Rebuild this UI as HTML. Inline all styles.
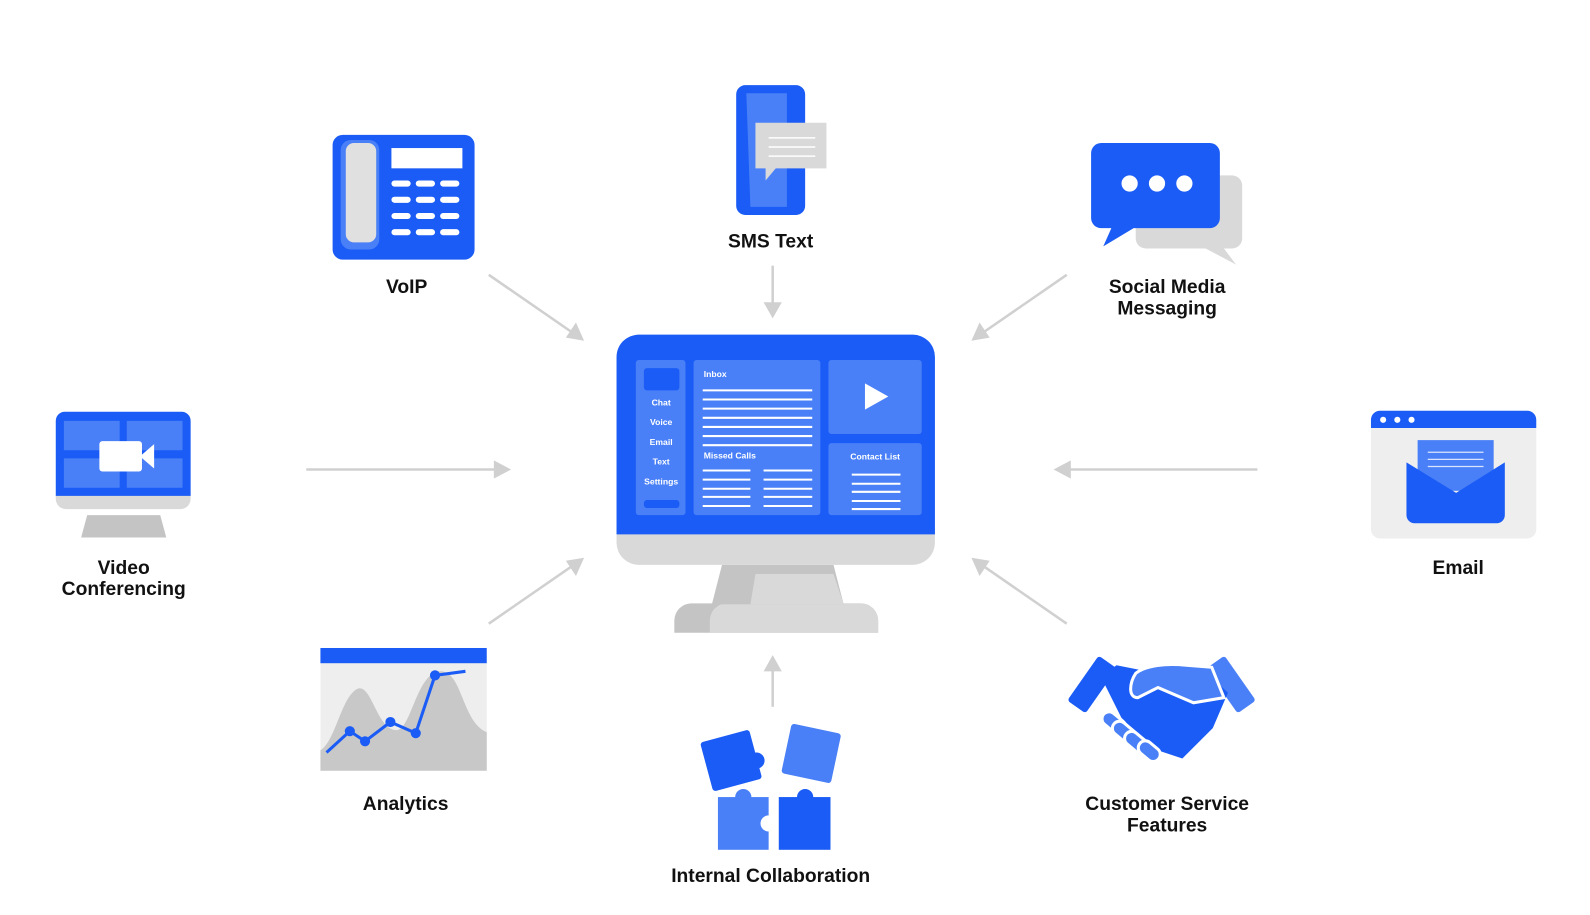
<!DOCTYPE html>
<html><head><meta charset="utf-8"><style>
html,body{margin:0;padding:0;background:#fff}
svg{display:block}
text{font-family:"Liberation Sans",Arial,sans-serif;font-weight:bold;fill:#111}
.l{font-size:19px;text-anchor:middle}
.s{font-size:8.5px;fill:#fff}
</style></head><body>
<svg width="1590" height="915" viewBox="0 0 1568 902.3" preserveAspectRatio="none" xmlns="http://www.w3.org/2000/svg">
<g stroke="#d0d0d0" stroke-width="2.5" fill="none">
<line x1="482" y1="271" x2="566" y2="329"/>
<line x1="762" y1="262" x2="762" y2="302"/>
<line x1="1052" y1="271" x2="968" y2="329"/>
<line x1="302" y1="463" x2="490" y2="463"/>
<line x1="1240" y1="463" x2="1053" y2="463"/>
<line x1="482" y1="615" x2="566" y2="557"/>
<line x1="762" y1="697" x2="762" y2="660"/>
<line x1="1052" y1="615" x2="968" y2="557"/>
</g>
<g fill="#d0d0d0">
<polygon points="576,336 558,333 568,318"/>
<polygon points="762,314 753,298 771,298"/>
<polygon points="958,336 966,318 976,333"/>
<polygon points="504,463 487,454 487,472"/>
<polygon points="1039,463 1056,454 1056,472"/>
<polygon points="576,550 568,568 558,553"/>
<polygon points="762,646 753,662 771,662"/>
<polygon points="958,550 976,553 966,568"/>
</g>

<!-- central monitor -->
<path d="M665,624 v-12 a17,17 0 0 1 17,-17 h167 a17,17 0 0 1 17,17 v12 z" fill="#c4c4c4"/>
<path d="M700,624 v-12 a17,17 0 0 1 17,-17 h132 a17,17 0 0 1 17,17 v12 z" fill="#d9d9d9"/>
<polygon points="712,557 822,557 832,596 702,596" fill="#c4c4c4"/>
<polygon points="745,566 822,566 832,596 740,596" fill="#d9d9d9"/>
<path d="M608,520 h314 v15 a22,22 0 0 1 -22,22 h-270 a22,22 0 0 1 -22,-22 z" fill="#d9d9d9"/>
<path d="M630,330 h270 a22,22 0 0 1 22,22 v175 h-314 v-175 a22,22 0 0 1 22,-22 z" fill="#1a5cf5"/>
<g fill="#4a80f7">
<rect x="627" y="355" width="49" height="153" rx="3"/>
<rect x="684" y="355" width="125" height="153" rx="3"/>
<rect x="817" y="355" width="92" height="73" rx="3"/>
<rect x="817" y="437" width="92" height="71" rx="3"/>
</g>
<rect x="635" y="363" width="35" height="22" rx="3" fill="#1a5cf5"/>
<rect x="635" y="493" width="35" height="8" rx="3" fill="#1a5cf5"/>
<text class="s" x="652" y="400" text-anchor="middle">Chat</text>
<text class="s" x="652" y="419" text-anchor="middle">Voice</text>
<text class="s" x="652" y="439" text-anchor="middle">Email</text>
<text class="s" x="652" y="458" text-anchor="middle">Text</text>
<text class="s" x="652" y="478" text-anchor="middle">Settings</text>
<text class="s" x="694" y="372">Inbox</text>
<text class="s" x="694" y="452">Missed Calls</text>
<text class="s" x="863" y="453" text-anchor="middle">Contact List</text>
<g stroke="#fff" stroke-width="2">
<path d="M693,385h108M693,394h108M693,403h108M693,412h108M693,421h108M693,430h108M693,439h108"/>
<path d="M693,464h47M693,473h47M693,482h47M693,490h47M693,499h47"/>
<path d="M753,464h48M753,473h48M753,482h48M753,490h48M753,499h48"/>
<path d="M840,468h48M840,477h48M840,485h48M840,494h48M840,502h48"/>
</g>
<polygon points="853,378 876,391 853,404" fill="#fff"/>

<!-- VoIP -->
<rect x="328" y="133" width="140" height="123" rx="10" fill="#1a5cf5"/>
<rect x="336" y="138" width="38" height="108" rx="10" fill="#4a80f7"/>
<rect x="341" y="141" width="30" height="98" rx="8" fill="#e0e0e0"/>
<rect x="386" y="146" width="70" height="20" fill="#fff"/>
<g fill="#fff">
<rect x="386" y="178" width="19" height="6" rx="3"/><rect x="410" y="178" width="19" height="6" rx="3"/><rect x="434" y="178" width="19" height="6" rx="3"/>
<rect x="386" y="194" width="19" height="6" rx="3"/><rect x="410" y="194" width="19" height="6" rx="3"/><rect x="434" y="194" width="19" height="6" rx="3"/>
<rect x="386" y="210" width="19" height="6" rx="3"/><rect x="410" y="210" width="19" height="6" rx="3"/><rect x="434" y="210" width="19" height="6" rx="3"/>
<rect x="386" y="226" width="19" height="6" rx="3"/><rect x="410" y="226" width="19" height="6" rx="3"/><rect x="434" y="226" width="19" height="6" rx="3"/>
</g>
<text class="l" x="401" y="289">VoIP</text>

<!-- SMS -->
<rect x="726" y="84" width="68" height="128" rx="9" fill="#1a5cf5"/>
<path d="M736,92 h40 v112 h-36 z" fill="#4a80f7"/>
<path d="M745,121 h70 v45 h-50 l-10,12 v-12 h-10 z" fill="#d9d9d9"/>
<g stroke="#fff" stroke-width="1.5"><path d="M758,136h46M758,145h46M758,154h46"/></g>
<text class="l" x="760" y="244">SMS Text</text>

<!-- Social -->
<path d="M1120,173 h95 a10,10 0 0 1 10,10 v52 a10,10 0 0 1 -10,10 h-8 l12,16 l-30,-16 h-59 a10,10 0 0 1 -10,-10 z" fill="#d9d9d9"/>
<path d="M1086,141 h107 a10,10 0 0 1 10,10 v64 a10,10 0 0 1 -10,10 h-75 l-30,18 l8,-18 h-10 a10,10 0 0 1 -10,-10 v-64 a10,10 0 0 1 10,-10 z" fill="#1a5cf5"/>
<circle cx="1114" cy="181" r="8" fill="#fff"/><circle cx="1141" cy="181" r="8" fill="#fff"/><circle cx="1168" cy="181" r="8" fill="#fff"/>
<text class="l" x="1151" y="289">Social Media</text>
<text class="l" x="1151" y="310">Messaging</text>

<!-- Video -->
<path d="M80,530 l6,-22 h72 l6,22 z" fill="#c4c4c4"/>
<path d="M55,488 h133 v4 a10,10 0 0 1 -10,10 h-113 a10,10 0 0 1 -10,-10 z" fill="#d9d9d9"/>
<path d="M64,406 h115 a9,9 0 0 1 9,9 v74 h-133 v-74 a9,9 0 0 1 9,-9 z" fill="#1a5cf5"/>
<g fill="#4a80f7"><rect x="63" y="415" width="55" height="29"/><rect x="125" y="415" width="55" height="29"/><rect x="63" y="452" width="55" height="29"/><rect x="125" y="452" width="55" height="29"/></g>
<rect x="98" y="435" width="42" height="30" rx="3" fill="#fff"/>
<polygon points="138,450 152,438 152,462" fill="#fff"/>
<text class="l" x="122" y="566">Video</text>
<text class="l" x="122" y="587">Conferencing</text>

<!-- Email -->
<rect x="1352" y="405" width="163" height="126" rx="9" fill="#eeeeee"/>
<path d="M1361,405 h145 a9,9 0 0 1 9,9 v8 h-163 v-8 a9,9 0 0 1 9,-9 z" fill="#1a5cf5"/>
<circle cx="1364" cy="414" r="3" fill="#fff"/><circle cx="1378" cy="414" r="3" fill="#fff"/><circle cx="1392" cy="414" r="3" fill="#fff"/>
<rect x="1398" y="434" width="75" height="50" fill="#4a80f7"/>
<path d="M1387,456 l49,30 l48,-30 v52 a8,8 0 0 1 -8,8 h-81 a8,8 0 0 1 -8,-8 z" fill="#1a5cf5"/>
<g stroke="#fff" stroke-width="1.2" opacity=".8"><path d="M1408,446h55M1408,453h55M1408,460h55"/></g>
<text class="l" x="1438" y="566">Email</text>

<!-- Analytics -->
<rect x="316" y="639" width="164" height="121" fill="#eeeeee"/>
<rect x="316" y="639" width="164" height="15" fill="#1a5cf5"/>
<path d="M316,760 v-20 c15,-10 20,-50 35,-60 c15,-10 20,40 40,40 c15,0 20,-60 45,-58 c20,2 20,50 44,60 v38 z" fill="#c8c8c8"/>
<polyline points="322,742 345,721 360,731 385,712 410,723 429,666 459,662" fill="none" stroke="#1a5cf5" stroke-width="3"/>
<g fill="#1a5cf5"><circle cx="345" cy="721" r="5"/><circle cx="360" cy="731" r="5"/><circle cx="385" cy="712" r="5"/><circle cx="410" cy="723" r="5"/><circle cx="429" cy="666" r="5"/></g>
<text class="l" x="400" y="799">Analytics</text>

<!-- Puzzle -->
<g>
<rect x="696" y="725" width="50" height="50" rx="3" fill="#1a5cf5" transform="rotate(-15 721 750)"/>
<rect x="775" y="718" width="50" height="50" rx="3" fill="#4a80f7" transform="rotate(12 800 743)"/>
<rect x="708" y="786" width="50" height="52" fill="#4a80f7"/>
<rect x="768" y="786" width="51" height="52" fill="#1a5cf5"/>
<circle cx="733" cy="786" r="8" fill="#4a80f7"/><circle cx="758" cy="812" r="8" fill="#fff"/>
<circle cx="794" cy="786" r="8" fill="#1a5cf5"/><circle cx="746" cy="750" r="8" fill="#1a5cf5"/>
</g>
<text class="l" x="760" y="870">Internal Collaboration</text>

<!-- Handshake -->
<g>
<rect x="1066" y="648" width="22" height="54" rx="3" fill="#1a5cf5" transform="rotate(35 1077 675)"/>
<rect x="1203" y="648" width="22" height="54" rx="3" fill="#4a80f7" transform="rotate(-35 1214 675)"/>
<path d="M1086,668 l20,40 l30,30 l30,10 l30,-30 l15,-35 l-20,-18 l-45,-6 l-20,2 l-25,-5 z" fill="#1a5cf5"/>
<path d="M1120,664 c10,-8 30,-10 50,-8 l25,2 l12,30 l-30,5 l-35,-15 l-20,10 c-10,0 -8,-15 -2,-24 z" fill="#4a80f7" stroke="#fff" stroke-width="3"/>
<g fill="#4a80f7" stroke="#fff" stroke-width="3">
<rect x="1086" y="706" width="26" height="14" rx="7" transform="rotate(40 1099 712)"/>
<rect x="1096" y="716" width="28" height="14" rx="7" transform="rotate(40 1110 722)"/>
<rect x="1108" y="726" width="28" height="14" rx="7" transform="rotate(40 1122 732)"/>
<rect x="1122" y="734" width="24" height="14" rx="7" transform="rotate(40 1134 740)"/>
</g>
</g>
<text class="l" x="1151" y="799">Customer Service</text>
<text class="l" x="1151" y="820">Features</text>
</svg>
</body></html>
